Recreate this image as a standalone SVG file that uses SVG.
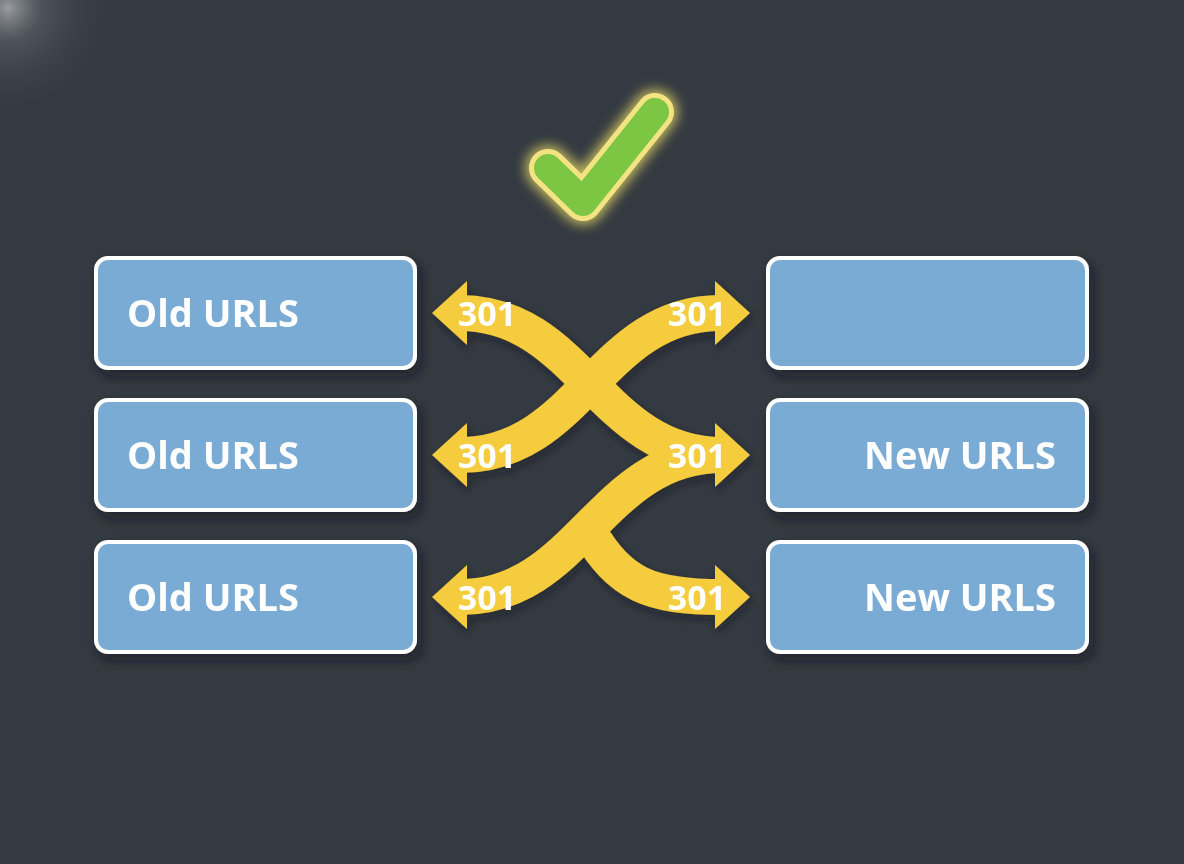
<svg xmlns="http://www.w3.org/2000/svg" width="1184" height="864" viewBox="0 0 1184 864">
<defs>
<radialGradient id="corner" cx="0" cy="0" r="1" gradientUnits="userSpaceOnUse" gradientTransform="translate(8,8) scale(110)">
<stop offset="0" stop-color="#ffffff" stop-opacity="0.5"/>
<stop offset="0.3" stop-color="#9aa0a8" stop-opacity="0.25"/>
<stop offset="1" stop-color="#343a41" stop-opacity="0"/>
</radialGradient>
<filter id="shadow" x="-10%" y="-20%" width="130%" height="160%">
<feDropShadow dx="4" dy="6" stdDeviation="6" flood-color="#15191d" flood-opacity="0.6"/>
</filter>
<filter id="rshadow" x="-20%" y="-20%" width="140%" height="140%">
<feDropShadow dx="2" dy="4" stdDeviation="4" flood-color="#15191d" flood-opacity="0.5"/>
</filter>
<filter id="glow" x="-40%" y="-40%" width="180%" height="180%">
<feGaussianBlur stdDeviation="6"/>
</filter>
<style>
.box{fill:#7aabd4;stroke:#ffffff;stroke-width:4}
.lbl{font-family:"Open Sans","Noto Sans","Liberation Sans",sans-serif;font-weight:700;font-size:38px;fill:#ffffff}
.num{font-family:"Open Sans","Noto Sans","Liberation Sans",sans-serif;font-weight:700;font-size:34px;fill:#ffffff}
.rib{fill:none;stroke:#f4cc3c;stroke-width:36}
.head{fill:#f4cc3c}
</style>
</defs>
<rect width="1184" height="864" fill="#343a41"/>
<rect width="200" height="200" fill="url(#corner)"/>

<g id="check">
<polyline points="548,168 583,202 655,112" fill="none" stroke="#f5e66a" stroke-width="46" stroke-linecap="round" stroke-linejoin="round" filter="url(#glow)" opacity="0.7"/>
<polyline points="548,168 583,202 655,112" fill="none" stroke="#f3e383" stroke-width="38" stroke-linecap="round" stroke-linejoin="round"/>
<polyline points="548,168 583,202 655,112" fill="none" stroke="#7cc644" stroke-width="28" stroke-linecap="round" stroke-linejoin="round"/>
</g>

<g id="old1" filter="url(#shadow)">
<rect class="box" x="96" y="258" width="319" height="110" rx="12"/>
<text class="lbl" x="127" y="327">Old URLS</text>
</g>
<g id="old2" filter="url(#shadow)">
<rect class="box" x="96" y="400" width="319" height="110" rx="12"/>
<text class="lbl" x="127" y="469">Old URLS</text>
</g>
<g id="old3" filter="url(#shadow)">
<rect class="box" x="96" y="542" width="319" height="110" rx="12"/>
<text class="lbl" x="127" y="611">Old URLS</text>
</g>
<g id="new1" filter="url(#shadow)">
<rect class="box" x="768" y="258" width="319" height="110" rx="12"/>
</g>
<g id="new2" filter="url(#shadow)">
<rect class="box" x="768" y="400" width="319" height="110" rx="12"/>
<text class="lbl" x="1056" y="469" text-anchor="end">New URLS</text>
</g>
<g id="new3" filter="url(#shadow)">
<rect class="box" x="768" y="542" width="319" height="110" rx="12"/>
<text class="lbl" x="1056" y="611" text-anchor="end">New URLS</text>
</g>

<g id="connectors" filter="url(#rshadow)">
<path class="rib" d="M588,530 C620,585 650,597 722,597"/>
<path class="rib" d="M720,313 C600,313 580,455 460,455"/>
<path class="rib" d="M460,313 C580,313 600,455 722,455"/>
<path class="rib" d="M722,455 C600,455 580,597 460,597"/>
<polygon class="head" points="432,313 467,281 467,345"/>
<polygon class="head" points="432,455 467,423 467,487"/>
<polygon class="head" points="432,597 467,565 467,629"/>
<polygon class="head" points="750,313 715,281 715,345"/>
<polygon class="head" points="750,455 715,423 715,487"/>
<polygon class="head" points="750,597 715,565 715,629"/>
<text class="num" x="487" y="326" text-anchor="middle">301</text>
<text class="num" x="487" y="468" text-anchor="middle">301</text>
<text class="num" x="487" y="610" text-anchor="middle">301</text>
<text class="num" x="697" y="326" text-anchor="middle">301</text>
<text class="num" x="697" y="468" text-anchor="middle">301</text>
<text class="num" x="697" y="610" text-anchor="middle">301</text>
</g>
</svg>
